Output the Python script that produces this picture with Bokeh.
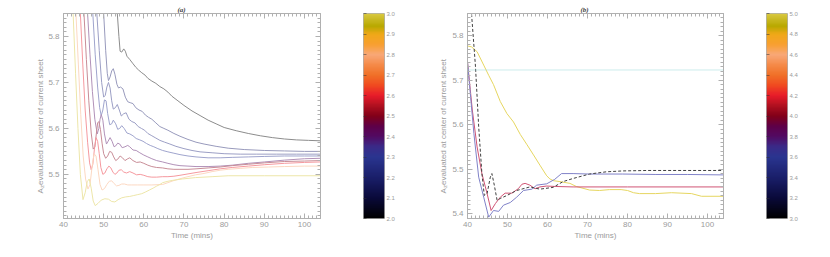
import numpy as np
from bokeh.plotting import figure
from bokeh.layouts import row
from bokeh.models import (SingleIntervalTicker, LinearAxis, FixedTicker, Span, Range1d,
                          LinearColorMapper, PrintfTickFormatter)
from bokeh.core.properties import value
from bokeh.embed import file_html
from bokeh.resources import INLINE

# ---------------- panel (a) data ----------------
a_params = [2.0, 2.2, 2.25, 2.3, 2.4, 2.5, 2.6, 2.8, 3.0]

a_x_200 = [52.9, 53.4, 53.8, 54.1, 54.5, 55.0, 55.4, 55.8, 56.5, 57.2, 58.0, 58.7, 59.5, 60.3, 61.0, 62.0, 63.0, 64.0,
           65.0, 66.0, 67.0, 68.5, 70, 72, 74, 76, 78, 80, 83, 86, 89, 92, 95, 98, 101, 104]
a_y_200 = [5.95, 5.85, 5.80, 5.768, 5.766, 5.773, 5.768, 5.757, 5.750, 5.742, 5.733, 5.727, 5.721, 5.716, 5.709, 5.703,
           5.698, 5.691, 5.686, 5.679, 5.670, 5.660, 5.650, 5.638, 5.628, 5.618, 5.610, 5.602, 5.595, 5.589, 5.584,
           5.580, 5.577, 5.575, 5.574, 5.573]

a_x_220 = [49.5, 50.0, 50.5, 50.9, 51.2, 51.6, 52.0, 52.4, 52.8, 53.3, 53.7, 54.2, 54.8, 55.4, 56.0, 56.6, 57.3, 58.0,
           58.8, 59.6, 60.4, 61.2, 62.0, 63.0, 64.0, 65.0, 66.0, 67.5, 69, 71, 73, 75, 78, 81, 85, 90, 95, 100, 104]
a_y_220 = [5.95, 5.85, 5.77, 5.72, 5.704, 5.712, 5.725, 5.730, 5.718, 5.696, 5.688, 5.690, 5.686, 5.668, 5.658, 5.656,
           5.654, 5.645, 5.640, 5.637, 5.629, 5.624, 5.620, 5.612, 5.604, 5.600, 5.596, 5.589, 5.583, 5.576, 5.570,
           5.566, 5.561, 5.557, 5.554, 5.552, 5.551, 5.550, 5.550]

a_x_225 = [47.8, 48.3, 48.9, 49.5, 50.0, 50.4, 50.8, 51.2, 51.6, 52.0, 52.4, 52.9, 53.4, 53.9, 54.4, 55.0, 55.6, 56.3,
           57.0, 57.8, 58.6, 59.4, 60.2, 61.0, 62.0, 63.0, 64.0, 65.2, 66.5, 68, 70, 72, 74, 77, 80, 84, 88, 93, 98, 104]
a_y_225 = [5.95, 5.85, 5.77, 5.70, 5.668, 5.672, 5.690, 5.700, 5.688, 5.660, 5.642, 5.645, 5.652, 5.640, 5.627, 5.632,
           5.634, 5.620, 5.615, 5.612, 5.604, 5.600, 5.596, 5.589, 5.584, 5.579, 5.574, 5.570, 5.566, 5.561, 5.556,
           5.552, 5.549, 5.547, 5.545, 5.544, 5.544, 5.544, 5.544, 5.544]

a_x_230 = [46.8, 47.3, 47.9, 48.5, 49.0, 49.4, 49.8, 50.2, 50.6, 51.0, 51.5, 52.0, 52.4, 53.0, 53.5, 54.0, 54.5, 55.1,
           55.8, 56.5, 57.3, 58.1, 59.0, 59.8, 60.7, 61.6, 62.5, 63.5, 64.7, 66, 67.5, 69, 71, 73, 76, 79, 82, 86, 90,
           95, 100, 104]
a_y_230 = [5.95, 5.85, 5.76, 5.69, 5.645, 5.628, 5.640, 5.662, 5.660, 5.632, 5.608, 5.610, 5.618, 5.610, 5.598, 5.600,
           5.606, 5.600, 5.590, 5.588, 5.584, 5.578, 5.575, 5.572, 5.567, 5.563, 5.560, 5.556, 5.552, 5.549, 5.546,
           5.543, 5.540, 5.538, 5.536, 5.536, 5.537, 5.538, 5.539, 5.540, 5.540, 5.540]

a_x_240 = [45.5, 46.0, 46.6, 47.2, 47.8, 48.4, 48.8, 49.1, 49.4, 49.8, 50.2, 50.7, 51.1, 51.6, 52.1, 52.6, 53.0, 53.5,
           54.0, 54.6, 55.3, 56.0, 56.5, 57.3, 58.1, 59.0, 60.0, 61.0, 62.0, 63.2, 64.7, 66, 67.5, 69, 71, 73, 76, 79,
           82, 86, 90, 95, 100, 104]
a_y_240 = [5.95, 5.85, 5.76, 5.68, 5.62, 5.588, 5.600, 5.620, 5.630, 5.618, 5.588, 5.566, 5.572, 5.580, 5.572, 5.560,
           5.562, 5.568, 5.566, 5.558, 5.560, 5.563, 5.560, 5.553, 5.552, 5.547, 5.542, 5.538, 5.534, 5.530, 5.527,
           5.524, 5.521, 5.519, 5.518, 5.517, 5.517, 5.518, 5.520, 5.524, 5.527, 5.531, 5.534, 5.535]

a_x_250 = [44.6, 45.1, 45.7, 46.3, 46.9, 47.4, 47.8, 48.2, 48.5, 48.8, 49.2, 49.6, 50.0, 50.5, 51.0, 51.5, 52.0, 52.5,
           53.0, 53.5, 54.1, 54.7, 55.3, 56.0, 56.5, 57.3, 58.2, 59.1, 60.0, 61.0, 62.0, 63.2, 64.7, 66, 67.5, 69, 71,
           73, 76, 79, 82, 86, 90, 95, 100, 104]
a_y_250 = [5.95, 5.85, 5.75, 5.66, 5.59, 5.555, 5.560, 5.590, 5.612, 5.615, 5.598, 5.568, 5.545, 5.535, 5.540, 5.550,
           5.548, 5.538, 5.530, 5.533, 5.540, 5.536, 5.530, 5.534, 5.536, 5.530, 5.526, 5.527, 5.524, 5.520, 5.517,
           5.515, 5.514, 5.512, 5.511, 5.511, 5.511, 5.512, 5.514, 5.516, 5.519, 5.522, 5.525, 5.528, 5.529, 5.530]

a_x_260 = [43.7, 44.2, 44.8, 45.4, 46.0, 46.5, 46.9, 47.3, 47.7, 48.1, 48.5, 48.9, 49.3, 49.8, 50.3, 50.8, 51.3, 51.8,
           52.3, 52.8, 53.3, 53.8, 54.4, 55.0, 55.7, 56.5, 57.3, 58.2, 59.1, 60.0, 61.0, 62.0, 63.2, 64.7, 66, 67.5,
           69, 71, 73, 76, 79, 82, 86, 90, 95, 100, 104]
a_y_260 = [5.95, 5.85, 5.74, 5.64, 5.57, 5.525, 5.510, 5.522, 5.555, 5.580, 5.572, 5.545, 5.515, 5.500, 5.503, 5.512,
           5.518, 5.514, 5.505, 5.500, 5.503, 5.509, 5.510, 5.505, 5.503, 5.506, 5.503, 5.499, 5.500, 5.498, 5.495,
           5.494, 5.494, 5.495, 5.495, 5.496, 5.498, 5.501, 5.504, 5.508, 5.512, 5.515, 5.518, 5.521, 5.524, 5.526,
           5.527]

a_x_280 = [42.6, 43.1, 43.7, 44.3, 44.9, 45.5, 46.1, 46.6, 47.1, 47.6, 48.1, 48.6, 49.1, 49.6, 50.2, 50.8, 51.4, 52.0,
           52.6, 53.2, 53.8, 54.5, 55.2, 56.0, 57.0, 58.5, 60, 62, 64.7, 66, 67.3, 68.8, 70.5, 72.9, 75, 77, 79, 81,
           84, 87, 91, 95, 100, 104]
a_y_280 = [5.95, 5.85, 5.74, 5.63, 5.54, 5.49, 5.468, 5.478, 5.515, 5.545, 5.540, 5.510, 5.478, 5.466, 5.469, 5.478,
           5.485, 5.486, 5.480, 5.475, 5.476, 5.479, 5.479, 5.477, 5.477, 5.477, 5.477, 5.477, 5.478, 5.482, 5.486,
           5.490, 5.494, 5.499, 5.502, 5.506, 5.509, 5.511, 5.513, 5.515, 5.516, 5.517, 5.518, 5.518]

a_x_300 = [41.9, 42.4, 43.0, 43.6, 44.2, 44.85, 45.4, 45.9, 46.4, 46.9, 47.4, 47.9, 48.6, 49.4, 50.3, 51.2, 52.0, 52.8,
           53.6, 54.5, 55.5, 56.5, 57.5, 58.5, 59.5, 60.5, 61.4, 62.3, 63.1, 64.0, 64.7, 66, 67.2, 69.6, 72.9, 77, 81,
           90, 104]
a_y_300 = [5.95, 5.85, 5.72, 5.60, 5.50, 5.445, 5.460, 5.484, 5.490, 5.470, 5.442, 5.432, 5.437, 5.444, 5.447, 5.446,
           5.441, 5.440, 5.445, 5.449, 5.451, 5.452, 5.454, 5.456, 5.458, 5.462, 5.466, 5.470, 5.474, 5.478, 5.482,
           5.485, 5.487, 5.490, 5.493, 5.495, 5.497, 5.497, 5.497]

a_xs = [a_x_200, a_x_220, a_x_225, a_x_230, a_x_240, a_x_250, a_x_260, a_x_280, a_x_300]
a_ys = [a_y_200, a_y_220, a_y_225, a_y_230, a_y_240, a_y_250, a_y_260, a_y_280, a_y_300]

# ---------------- panel (b) data ----------------
b_x_yellow = [40, 41, 42.4, 44.05, 45.3, 46.5, 48.2, 49.85, 51.5, 53.2, 54.8, 56.5, 58.1, 59.8, 60.6, 61.5, 63.1, 65.6,
              67.2, 70.5, 73, 75.5, 78.4, 80, 81.5, 83, 87, 91, 96, 98.5, 104]
b_y_yellow = [5.777, 5.775, 5.764, 5.734, 5.711, 5.690, 5.652, 5.625, 5.606, 5.578, 5.556, 5.532, 5.509, 5.485, 5.478,
              5.474, 5.472, 5.468, 5.461, 5.453, 5.452, 5.454, 5.454, 5.452, 5.447, 5.445, 5.445, 5.447, 5.445, 5.439,
              5.439]
b_x_dash = [40.5, 41.0, 42.0, 42.8, 43.6, 44.2, 44.9, 45.7, 46.1, 46.7, 47.4, 48.2, 49.9, 52.3, 55.6, 58.1, 61.4, 63.9,
            66.4, 70.5, 74.7, 78.8, 85, 104]
b_y_dash = [5.95, 5.85, 5.73, 5.595, 5.49, 5.441, 5.445, 5.482, 5.490, 5.464, 5.430, 5.434, 5.441, 5.452, 5.460, 5.455,
            5.459, 5.472, 5.479, 5.489, 5.494, 5.496, 5.497, 5.497]
b_x_blue = [40, 40.7, 41.6, 42.8, 44.05, 45.3, 46.5, 47.8, 49.0, 50.7, 52.3, 54.0, 56.1, 57.3, 59.8, 61.8, 63.5, 66.4,
            70.5, 78.8, 87.1, 95, 104]
b_y_blue = [5.741, 5.670, 5.580, 5.482, 5.437, 5.392, 5.407, 5.405, 5.419, 5.425, 5.437, 5.452, 5.455, 5.464, 5.467,
            5.477, 5.490, 5.490, 5.489, 5.489, 5.488, 5.488, 5.487]
b_x_red = [40, 41.2, 42.4, 43.6, 44.9, 45.9, 47.0, 48.2, 49.4, 51.1, 52.7, 53.6, 54.4, 55.6, 56.9, 58.1, 59.8, 62, 66.4,
           80, 104]
b_y_red = [5.741, 5.633, 5.550, 5.490, 5.445, 5.407, 5.423, 5.437, 5.446, 5.446, 5.456, 5.466, 5.468, 5.464, 5.456,
           5.460, 5.462, 5.461, 5.460, 5.460, 5.460]
b_ref_level = 5.723

a_cbar_ticks = [2.0, 2.1, 2.2, 2.3, 2.4, 2.5, 2.6, 2.7, 2.8, 2.9, 3.0]
b_cbar_ticks = [3.0, 3.2, 3.4, 3.6, 3.8, 4.0, 4.2, 4.4, 4.6, 4.8, 5.0]
x_tick_labels = [40, 50, 60, 70, 80, 90, 100]

# ---------------- colour table ----------------
anchor_pos = [0, .1, .2, .3, .35, .4, .45, .5, .55, .6, .65, .7, .75, .8, .85, .9, .94, 1.0]
anchor_hex = ["#000000", "#0a0a3a", "#1a1f6a", "#2a3590", "#3a2a88", "#520a62", "#5e0048", "#820018",
              "#b01020", "#e81c2a", "#f04a20", "#f07028", "#f58a48", "#f8a878", "#f8a030", "#f0a818",
              "#b8a800", "#d8c840"]


def hex2rgb(h):
    return [int(h[i:i + 2], 16) for i in (1, 3, 5)]


rgb = np.array([hex2rgb(h) for h in anchor_hex], float)
grid = np.linspace(0, 1, 256)
pal = np.stack([np.interp(grid, anchor_pos, rgb[:, k]) for k in range(3)], axis=1)
PALETTE = ["#%02x%02x%02x" % tuple(int(round(v)) for v in c) for c in pal]


def cmap_light(v, lo, hi, f=0.55):
    i = int(round((v - lo) / (hi - lo) * 255))
    c = pal[max(0, min(255, i))]
    c = c * (1 - f) + 255 * f
    return "#%02x%02x%02x" % tuple(int(round(t)) for t in c)


TXT = "#9c9c9c"
AXC = "#b0b0b0"
FONT = "Liberation Sans"
H = 249
TOP = 13
BOT = 31


def style_axis(ax, labels=True):
    ax.axis_line_color = AXC
    ax.major_tick_line_color = AXC
    ax.minor_tick_line_color = AXC
    ax.major_tick_in = 5
    ax.major_tick_out = 0
    ax.minor_tick_in = 3
    ax.minor_tick_out = 0
    ax.major_label_text_font = FONT
    if labels:
        ax.major_label_text_color = TXT
        ax.major_label_text_font_size = "8px"
        ax.major_label_standoff = 4
    else:
        ax.major_label_text_color = None
        ax.major_label_text_font_size = "1px"
        ax.major_label_standoff = 0


def panel(w, ml, mr, yr, title, title_off):
    p = figure(width=w, height=H, x_range=(40, 104), y_range=yr,
               min_border_left=ml, min_border_right=mr, min_border_top=TOP, min_border_bottom=BOT,
               output_backend="svg", toolbar_location=None)
    p.grid.visible = False
    p.outline_line_color = AXC
    p.background_fill_color = "white"
    p.border_fill_color = "white"
    p.xaxis.ticker = FixedTicker(ticks=x_tick_labels, minor_ticks=list(range(40, 105)))
    p.yaxis.ticker = SingleIntervalTicker(interval=0.1, num_minor_ticks=10)
    style_axis(p.xaxis[0])
    style_axis(p.yaxis[0])
    p.yaxis.major_label_standoff = 4
    p.xaxis.major_label_standoff = 3
    p.xaxis.axis_label = "Time (mins)"
    p.xaxis.axis_label_text_font = FONT
    p.xaxis.axis_label_text_font_style = "normal"
    p.xaxis.axis_label_text_font_size = "8px"
    p.xaxis.axis_label_text_color = TXT
    p.xaxis.axis_label_standoff = 1
    top = LinearAxis(ticker=FixedTicker(ticks=x_tick_labels, minor_ticks=list(range(40, 105))))
    style_axis(top, labels=False)
    p.add_layout(top, "above")
    rgt = LinearAxis(ticker=SingleIntervalTicker(interval=0.1, num_minor_ticks=10))
    style_axis(rgt, labels=False)
    p.add_layout(rgt, "right")
    p.title.text = title
    p.title.align = "left"
    p.title.offset = title_off
    p.title.standoff = 0
    p.title.text_font = "Liberation Serif"
    p.title.text_font_size = "7px"
    p.title.text_font_style = "bold italic"
    p.title.text_color = "#404040"
    return p


def ylabel_fig(w, yr, xpos, ystart):
    f = figure(width=w, height=H, x_range=(0, w), y_range=yr, min_border_left=0, min_border_right=0,
               min_border_top=TOP, min_border_bottom=BOT, x_axis_type=None, y_axis_type=None,
               output_backend="svg", toolbar_location=None)
    f.outline_line_color = None
    f.grid.visible = False
    f.border_fill_color = "white"
    y0 = yr.start
    f.text(x=[xpos], y=[y0], text=["A"], angle=np.pi / 2, y_offset=-ystart, text_align="left",
           text_baseline="middle", text_font=value(FONT), text_font_size="8px", text_color=TXT)
    f.text(x=[xpos], y=[y0], text=["z"], angle=np.pi / 2, x_offset=2.2, y_offset=-(ystart + 5.4),
           text_align="left", text_baseline="middle", text_font=value(FONT), text_font_size="6px",
           text_color=TXT)
    f.text(x=[xpos], y=[y0], text=[" evaluated at center of current sheet"], angle=np.pi / 2,
           y_offset=-(ystart + 8.6), text_align="left", text_baseline="middle", text_font=value(FONT),
           text_font_size="8px", text_color=TXT)
    return f


def cbar(w, ml, mr, lo, hi, ticks):
    c = figure(width=w, height=H, x_range=(0, 1), y_range=(lo, hi), min_border_left=ml,
               min_border_right=mr, min_border_top=TOP, min_border_bottom=BOT, y_axis_location="right",
               output_backend="svg", toolbar_location=None)
    c.grid.visible = False
    c.xaxis.visible = False
    c.outline_line_color = AXC
    c.border_fill_color = "white"
    mapper = LinearColorMapper(palette=PALETTE, low=lo, high=hi)
    grad = np.linspace(lo, hi, 256).reshape(256, 1)
    c.image(image=[grad], x=0, y=lo, dw=1, dh=hi - lo, color_mapper=mapper)
    ax = c.yaxis[0]
    ax.ticker = FixedTicker(ticks=ticks, minor_ticks=[])
    ax.formatter = PrintfTickFormatter(format="%.1f")
    ax.axis_line_color = None
    ax.major_tick_in = 0
    ax.major_tick_out = 0
    ax.minor_tick_in = 0
    ax.minor_tick_out = 0
    ax.major_label_standoff = 2
    ax.major_label_text_font = FONT
    ax.major_label_text_font_size = "6px"
    ax.major_label_text_color = TXT
    lax = LinearAxis(ticker=FixedTicker(ticks=ticks, minor_ticks=[]))
    lax.axis_line_color = None
    lax.major_tick_in = 3
    lax.major_tick_out = 0
    lax.major_tick_line_color = "#303030"
    lax.major_tick_line_alpha = 0.5
    lax.major_label_text_color = None
    lax.major_label_text_font_size = "1px"
    lax.major_label_standoff = 0
    c.add_layout(lax, "left")
    return c


# ---- panel (a)
yr_a = Range1d(5.404, 5.85)
la = ylabel_fig(45, yr_a, 39.6, 25)
pa = panel(303, 18, 28, yr_a, "(a)", 114)
for xs, ys, v in zip(a_xs, a_ys, a_params):
    pa.line(xs, ys, line_color=cmap_light(v, 2.0, 3.0), line_width=1)
cba = cbar(60, 15, 24, 2.0, 3.0, a_cbar_ticks)

# ---- panel (b)
yr_b = Range1d(5.389, 5.85)
lb = ylabel_fig(41, yr_b, 34.6, 25)
pb = panel(299, 18, 25, yr_b, "(b)", 113)
pb.add_layout(Span(location=b_ref_level, dimension="width", line_color="#9adada",
                   line_dash="1 1", line_width=1))
pb.line(b_x_yellow, b_y_yellow, line_color="#e6d660", line_width=1)
pb.line(b_x_red, b_y_red, line_color="#d05474", line_width=1)
pb.line(b_x_blue, b_y_blue, line_color="#8082c8", line_width=1)
pb.line(b_x_dash, b_y_dash, line_color="#404040", line_width=1, line_dash="3 2")
cbb = cbar(64, 18, 25, 3.0, 5.0, b_cbar_ticks)

layout = row(la, pa, cba, lb, pb, cbb)
open("out.html", "w").write(file_html(layout, INLINE))
